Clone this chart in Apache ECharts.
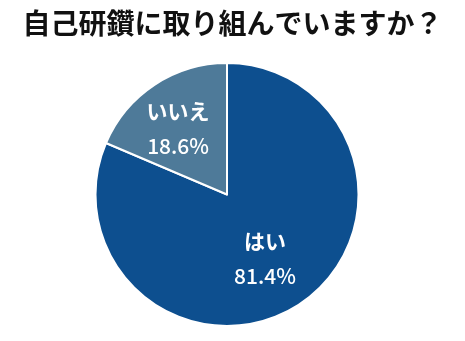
<!DOCTYPE html>
<html><head><meta charset="utf-8">
<script src="https://cdn.jsdelivr.net/npm/echarts@6/dist/echarts.min.js"></script>
<style>html,body{margin:0;padding:0;background:#fff}#c{width:465px;height:341px}</style>
</head><body><div id="c"></div>
<script>
const titleText = '自己研鑽に取り組んでいますか？';
const categories = ['はい', 'いいえ'];
const values = [81.4, 18.6];
const colors = ['#0d4f8f', '#4e7a99'];

const chart = echarts.init(document.getElementById('c'), null, {renderer: 'canvas'});
chart.setOption({
  animation: false,
  title: {
    text: titleText, left: 'center', top: 4,
    textStyle: {fontFamily: 'Noto Sans CJK JP', fontSize: 28, fontWeight: 'bold', color: '#111'}
  },
  series: [{
    type: 'pie',
    center: [227, 194.5],
    radius: [0, 131.5],
    startAngle: 90,
    clockwise: true,
    itemStyle: {borderColor: '#fff', borderWidth: 2},
    label: {
      position: 'inside',
      formatter: p => '{n|' + p.name + '}\n{v|' + p.value.toFixed(1) + '%}',
      rich: {
        n: {fontFamily: 'Noto Sans CJK JP', fontSize: 21, fontWeight: 'bold', color: '#fff', lineHeight: 35},
        v: {fontFamily: 'Noto Sans CJK JP', fontSize: 21, fontWeight: 500, color: '#fff', lineHeight: 35}
      }
    },
    labelLayout: p => p.dataIndex === 0 ? {dx: 0, dy: 7} : {dx: -11, dy: -9},
    labelLine: {show: false},
    data: categories.map((c, i) => ({name: c, value: values[i], itemStyle: {color: colors[i]}}))
  }]
});
</script></body></html>
